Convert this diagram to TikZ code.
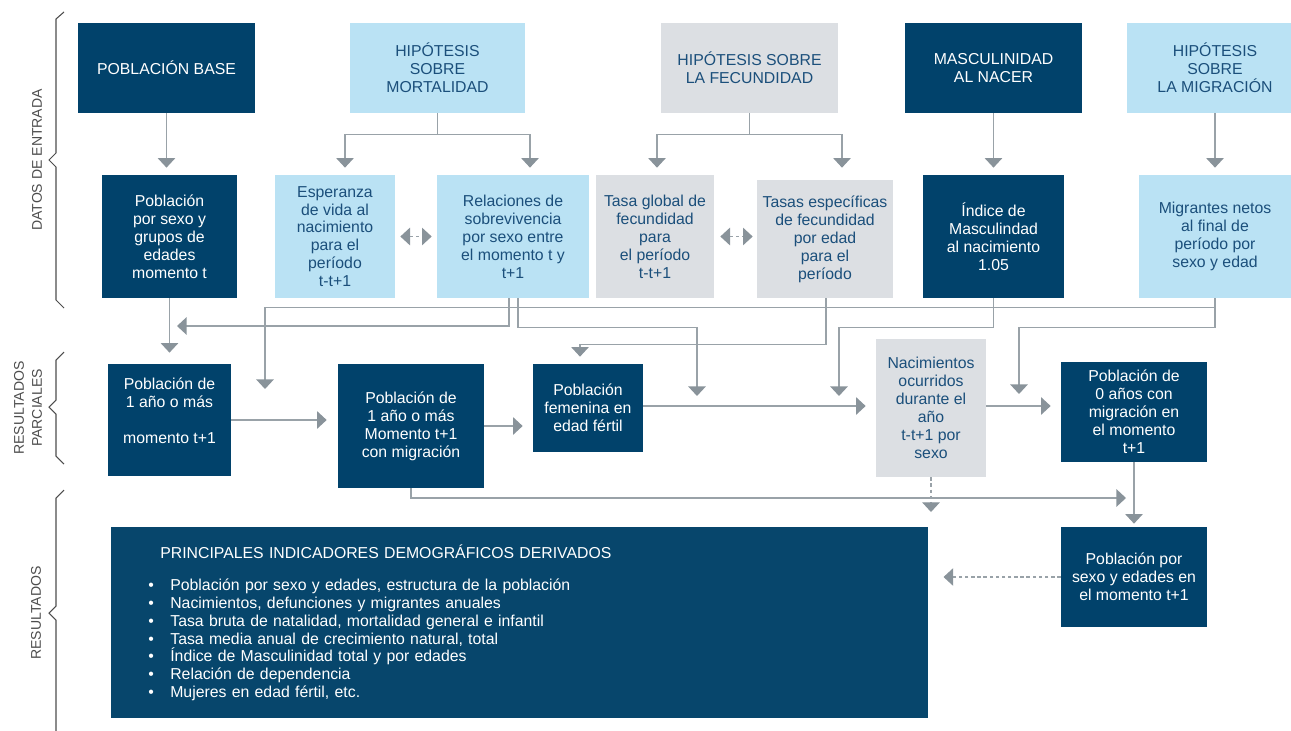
\documentclass[tikz,border=0pt]{standalone}
\usepackage{fontspec}
\setmainfont{Liberation Sans}
\usetikzlibrary{arrows.meta,calc}
\definecolor{navy}{HTML}{01426B}
\definecolor{navyb}{HTML}{07466C}
\definecolor{skyb}{HTML}{BAE2F4}
\definecolor{greyb}{HTML}{DCDFE3}
\definecolor{txtb}{HTML}{1B4F7B}
\definecolor{lgrey}{HTML}{99A2A8}
\definecolor{agrey}{HTML}{89939A}
\definecolor{bgrey}{HTML}{4D4D4D}
\tikzset{
  box/.style={rectangle,inner sep=1pt,align=center,font=\fontsize{9}{10.2}\selectfont},
  darkbox/.style={box,fill=navy,text=white},
  lightbox/.style={box,fill=skyb,text=txtb},
  greybox/.style={box,fill=greyb,text=txtb},
  arr/.style={draw=lgrey,line width=0.8pt,->},
  dline/.style={line width=0.6pt,dash pattern=on 2pt off 1.5pt},
  brace/.style={draw=bgrey,line width=0.6pt},
  side/.style={rotate=90,align=center,text=bgrey,font=\fontsize{8}{10.2}\selectfont}
}
\begin{document}
\begin{tikzpicture}[x=0.02cm,y=-0.02cm,>={Triangle[width=10pt,length=5.5pt,color=agrey]}]
\useasboundingbox (0,0) rectangle (1291,730);
\clip (0,0) rectangle (1291,730);
% datos de entrada
\node[darkbox,minimum width=3.54cm,minimum height=1.8cm] (pbase) at (166.5,68) {POBLACIÓN BASE};
\node[lightbox,minimum width=3.5cm,minimum height=1.8cm] (hmort) at (437.5,68) {HIPÓTESIS\\SOBRE\\MORTALIDAD};
\node[greybox,minimum width=3.54cm,minimum height=1.8cm] (hfec) at (749.5,68) {HIPÓTESIS SOBRE\\LA FECUNDIDAD};
\node[darkbox,minimum width=3.54cm,minimum height=1.8cm] (masc) at (993.5,68) {MASCULINIDAD\\AL NACER};
\node[lightbox,minimum width=3.54cm,minimum height=1.8cm] (hmig) at (1215,68) {HIPÓTESIS\\SOBRE\\LA MIGRACIÓN};

\node[darkbox,minimum width=2.7cm,minimum height=2.46cm] (pgrupos) at (169.5,236.5) {Población\\por sexo y\\grupos de\\edades\\momento t};
\node[lightbox,minimum width=2.4cm,minimum height=2.46cm] (esper) at (335,236.5) {Esperanza\\de vida al\\nacimiento\\para el\\período\\t-t+1};
\node[lightbox,minimum width=3.04cm,minimum height=2.46cm] (relac) at (513,236.5) {Relaciones de\\sobrevivencia\\por sexo entre\\el momento t y\\t+1};
\node[greybox,minimum width=2.36cm,minimum height=2.46cm] (tglob) at (655,236.5) {Tasa global de\\fecundidad\\para\\el período\\t-t+1};
\node[greybox,minimum width=2.72cm,minimum height=2.36cm] (tesp) at (825,239) {Tasas específicas\\de fecundidad\\por edad\\para el\\período};
\node[darkbox,minimum width=2.82cm,minimum height=2.46cm] (indice) at (993.5,236.5) {Índice de\\Masculindad\\al nacimiento\\1.05};
\node[lightbox,minimum width=3.04cm,minimum height=2.46cm] (migr) at (1215,236.5) {Migrantes netos\\al final de\\período por\\sexo y edad};

% resultados parciales
\node[darkbox,minimum width=2.46cm,minimum height=2.24cm] (p1) at (169.5,420) {Población de\\1 año o más\\[10.2pt]momento t+1\\ \mbox{}};
\node[darkbox,minimum width=2.92cm,minimum height=2.48cm] (p1m) at (411,426) {Población de\\1 año o más\\Momento t+1\\con migración};
\node[darkbox,minimum width=2.2cm,minimum height=1.76cm] (pfem) at (588,408) {Población\\femenina en\\edad fértil};
\node[greybox,minimum width=2.2cm,minimum height=2.76cm] (nac) at (931,408) {Nacimientos\\ocurridos\\durante el\\año\\t-t+1 por\\sexo};
\node[darkbox,minimum width=2.92cm,minimum height=2cm] (p0) at (1134,412) {Población de\\0 años con\\migración en\\el momento\\t+1};

% resultados
\node[darkbox,minimum width=2.92cm,minimum height=2cm] (pfinal) at (1134,577) {Población por\\sexo y edades en\\el momento t+1};
\node[box,fill=navyb,text=white,anchor=north west,align=left,inner xsep=0.74cm,text width=14.86cm,minimum height=3.82cm] (indic) at (111,527) {%
\hspace*{0.24cm}PRINCIPALES INDICADORES DEMOGRÁFICOS DERIVADOS\\[0.28cm]
\makebox[0.44cm][l]{\textbullet}Población por sexo y edades, estructura de la población\\
\makebox[0.44cm][l]{\textbullet}Nacimientos, defunciones y migrantes anuales\\
\makebox[0.44cm][l]{\textbullet}Tasa bruta de natalidad, mortalidad general e infantil\\
\makebox[0.44cm][l]{\textbullet}Tasa media anual de crecimiento natural, total\\
\makebox[0.44cm][l]{\textbullet}Índice de Masculinidad total y por edades\\
\makebox[0.44cm][l]{\textbullet}Relación de dependencia\\
\makebox[0.44cm][l]{\textbullet}Mujeres en edad fértil, etc.};

% free ends
\coordinate (jmort) at (177,326);
\coordinate (jmig1) at (265,389);
\coordinate (jrel) at (697,396);
\coordinate (jmasc) at (839,396);
\coordinate (jmig2) at (1019,394);
\coordinate (jp1m) at (1126,498);
\coordinate (jnac) at (931,512);

% flechas de entrada
\draw[arr,shorten >=0.14cm] (pbase.south) -- (pbase.south |- pgrupos.north);
\draw[arr,shorten >=0.14cm] (hmort.south) -- ++(0,21) -| ([xshift=0.2cm]esper.north);
\draw[arr,shorten >=0.14cm] (hmort.south) ++(0,21) -| ([xshift=0.34cm]relac.north);
\draw[arr,shorten >=0.14cm] (hfec.south) -- ++(0,21) -| ([xshift=0.04cm]tglob.north);
\draw[arr,shorten >=0.24cm] (hfec.south) ++(0,21) -| ([xshift=0.34cm]tesp.north);
\draw[arr,shorten >=0.14cm] (masc.south) -- (masc.south |- indice.north);
\draw[arr,shorten >=0.14cm] (hmig.south) -- (migr.north);
\draw[arr,dline,<->,shorten <=0.1cm,shorten >=0.1cm] (esper.east) -- (relac.west);
\draw[arr,dline,<->,shorten <=0.12cm,shorten >=0.08cm] (tglob.east) -- (tglob.east -| tesp.west);

% flechas intermedias
\draw[arr,shorten >=0.22cm] (pgrupos.south) -- (p1.north);
\draw[arr] ([xshift=-0.08cm]relac.south) |- (jmort);
\draw[arr] ([xshift=0.1cm]relac.south) -- ++(0,29) -| (jrel);
\draw[arr] (migr.south) -- ++(0,9) -| (jmig1);
\draw[arr] (migr.south) -- ++(0,29) -| (jmig2);
\draw[arr] (indice.south) -- ++(0,29) -| (jmasc);
\draw[arr,shorten >=0.14cm] ([xshift=0.02cm]tesp.south) -- ++(0,46) -| ([xshift=-0.16cm]pfem.north);
\draw[arr,shorten >=0.22cm] (p1.east) -- (p1.east -| p1m.west);
\draw[arr,shorten >=0.2cm] (p1m.east) -- (p1m.east -| pfem.west);
\draw[arr,shorten >=0.2cm] ([yshift=0.04cm]pfem.east) -- ([yshift=0.04cm]pfem.east -| nac.west);
\draw[arr,shorten >=0.2cm] ([yshift=0.04cm]nac.east) -- ([yshift=0.04cm]nac.east -| p0.west);
\draw[arr] (p1m.south) |- (jp1m);
\draw[arr,dline] (nac.south) -- (jnac);
\draw[arr,shorten >=0.06cm] (p0.south) -- (pfinal.north);
\draw[arr,dline,shorten >=0.3cm] (pfinal.west) -- (pfinal.west -| indic.east);

% llaves laterales
\draw[brace] (64,12) -- (56,19) -- (56,153) -- (49,160) -- (56,167) -- (56,300) -- (64,308);
\draw[brace] (64,352) -- (56,360) -- (56,400) -- (49,407) -- (56,414) -- (56,456) -- (64,464);
\draw[brace] (64,490) -- (56,498) -- (56,606) -- (49,613) -- (56,620) -- (56,735);
\node[side] (lent) at (37,160) {DATOS DE ENTRADA};
\node[side] (lpar) at (28,408) {RESULTADOS\\PARCIALES};
\node[side] (lres) at (36,613) {RESULTADOS};
\end{tikzpicture}
\end{document}
